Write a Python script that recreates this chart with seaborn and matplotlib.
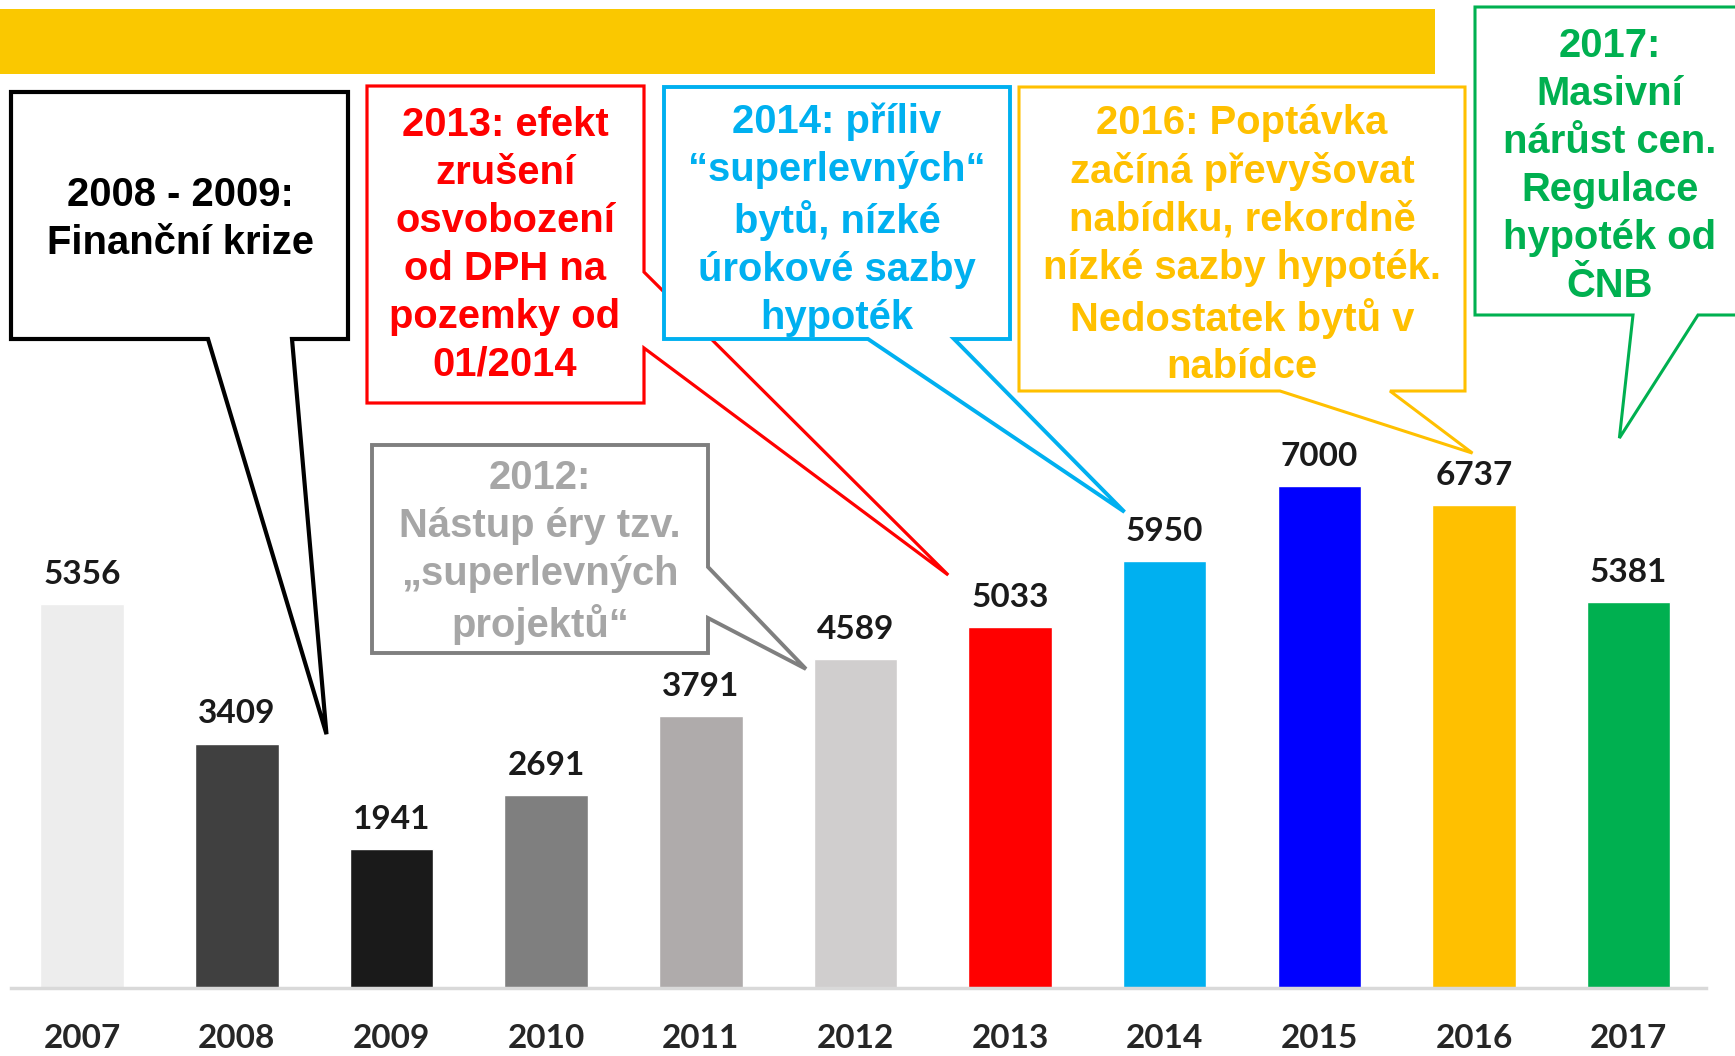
import matplotlib
matplotlib.use("Agg")
import matplotlib.pyplot as plt
from matplotlib.patches import Polygon, Rectangle
import pandas as pd
import seaborn as sns

# data
years = ["2007", "2008", "2009", "2010", "2011", "2012",
         "2013", "2014", "2015", "2016", "2017"]
sales = [5356, 3409, 1941, 2691, 3791, 4589, 5033, 5950, 7000, 6737, 5381]
bar_colors = ["#EDEDED", "#404040", "#1A1A1A", "#7F7F7F", "#AFABAB", "#D0CECE",
              "#FF0000", "#00B0F0", "#0000FF", "#FFC000", "#00B050"]

# callout texts
txt_crisis = "2008 - 2009:\nFinanční krize"
txt_2012 = "2012:\nNástup éry tzv.\n„superlevných\nprojektů“"
txt_2013 = "2013: efekt\nzrušení\nosvobození\nod DPH na\npozemky od\n01/2014"
txt_2014 = "2014: příliv\n“superlevných“\nbytů, nízké\núrokové sazby\nhypoték"
txt_2016 = "2016: Poptávka\nzačíná převyšovat\nnabídku, rekordně\nnízké sazby hypoték.\nNedostatek bytů v\nnabídce"
txt_2017 = "2017:\nMasivní\nnárůst cen.\nRegulace\nhypoték od\nČNB"

df = pd.DataFrame({"year": years, "sales": sales})

W, H = 1735, 1056
sns.set_style("white")
plt.rcParams["font.family"] = ["Lato", "DejaVu Sans"]

fig = plt.figure(figsize=(W / 100, H / 100), dpi=100)
ax = fig.add_axes([11 / W, 68 / H, 1695 / W, (H - 68) / H])

sns.barplot(data=df, x="year", y="sales", hue="year", palette=bar_colors,
            width=0.54, legend=False, ax=ax, saturation=1)
ax.set_xlim(-0.46, 10.5)
ax.set_ylim(0, 13780)

for c in ax.containers:
    ax.bar_label(c, fmt="%d", padding=11, fontsize=24, fontweight="bold",
                 color="#1A1A1A")

ax.set_xlabel("")
ax.set_ylabel("")
ax.set_yticks([])
ax.tick_params(axis="x", length=0, pad=26, labelsize=24)
for lab in ax.get_xticklabels():
    lab.set_fontweight("bold")
sns.despine(ax=ax, left=True)
ax.spines["bottom"].set_color("#D9D9D9")
ax.spines["bottom"].set_linewidth(2.5)

# yellow banner
fig.add_artist(Rectangle((0, 1 - 74 / H), 1435 / W, 65 / H,
                         transform=fig.transFigure, color="#FAC800", lw=0))


def px(x, y):
    return (x / W, 1 - y / H)


def tip_at(xd, yd):
    d = ax.transData.transform((xd, yd))
    return tuple(fig.transFigure.inverted().transform(d))


def bubble_bottom(box, b1, b2, tip, color, lw):
    x0, y0, x1, y1 = box
    pts = [px(x0, y0), px(x1, y0), px(x1, y1), px(b2, y1), tip,
           px(b1, y1), px(x0, y1)]
    fig.add_artist(Polygon(pts, closed=True, transform=fig.transFigure,
                           fc="white", ec=color, lw=lw, joinstyle="miter"))


def bubble_right(box, n1, n2, tip, color, lw):
    x0, y0, x1, y1 = box
    pts = [px(x0, y0), px(x1, y0), px(x1, n1), tip, px(x1, n2),
           px(x1, y1), px(x0, y1)]
    fig.add_artist(Polygon(pts, closed=True, transform=fig.transFigure,
                           fc="white", ec=color, lw=lw, joinstyle="miter"))


def label(x, y, s, color):
    fig.text(x / W, 1 - y / H, s, ha="center", va="center", color=color,
             fontsize=28.8, fontweight="bold", linespacing=1.33,
             family=["Liberation Sans", "DejaVu Sans"])


bubble_bottom((11, 92, 348, 339), 208, 292, tip_at(1.58, 3540), "black", 3.0)
label(180, 219, txt_crisis, "black")

bubble_right((372, 445, 708, 653), 567, 618, tip_at(4.68, 4450), "#7F7F7F", 2.8)
label(540, 552, txt_2012, "#A6A6A6")

bubble_right((367, 86, 644, 403), 272, 348, tip_at(5.6, 5760), "#FF0000", 2.3)
label(505, 245, txt_2013, "#FF0000")

bubble_bottom((664, 87, 1010, 339), 868, 954, tip_at(6.74, 6640), "#00B0F0", 2.8)
label(837, 220, txt_2014, "#00B0F0")

bubble_bottom((1019, 87, 1465, 391), 1280, 1390, tip_at(8.99, 7460), "#FFC000", 2.2)
label(1242, 245, txt_2016, "#FFC000")

bubble_bottom((1475, 7, 1760, 315), 1633, 1698, tip_at(9.94, 7670), "#00B050", 2.2)
label(1610, 166, txt_2017, "#00B050")

fig.savefig("out.png", dpi=100)
